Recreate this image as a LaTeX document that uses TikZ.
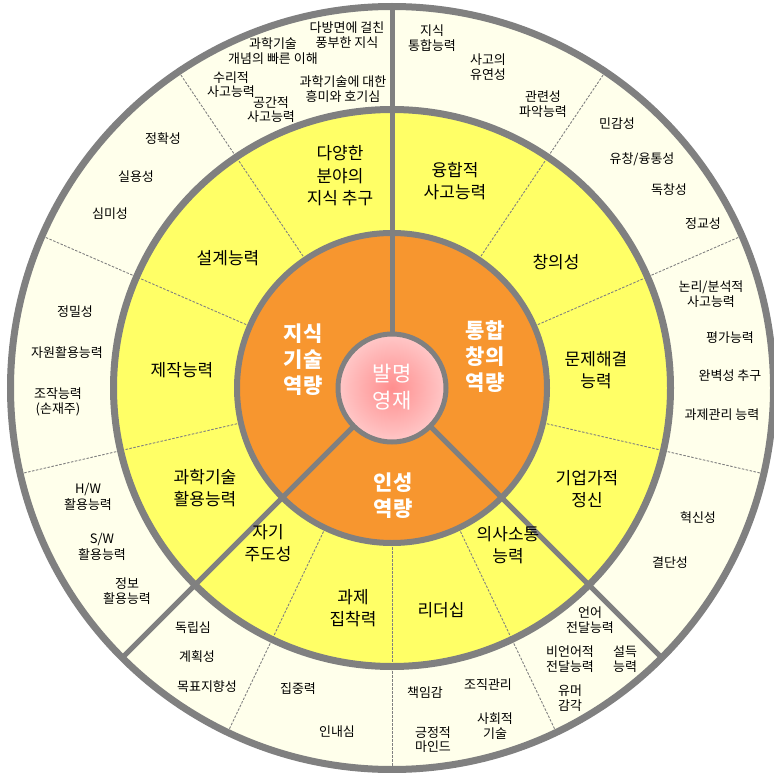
\documentclass[tikz,border=0pt]{standalone}
\usepackage{fontspec}
\setmainfont{Noto Sans CJK KR}
\definecolor{cream}{HTML}{FFFFEB}
\definecolor{yel}{HTML}{FFFF66}
\definecolor{org}{HTML}{F7962F}
\definecolor{rimgray}{HTML}{808080}
\definecolor{pinkin}{HTML}{FF8E8E}
\definecolor{pinkout}{HTML}{FFC8C8}
\tikzset{
  dline/.style={rimgray, line width=0.9pt, dash pattern=on 2.5pt off 1.5pt},
  thick line/.style={rimgray, line width=5pt},
  otext/.style={font=\fontsize{13}{15.5}\selectfont, align=center, inner sep=0pt, text=black},
  otight/.style={otext, font=\fontsize{13}{14}\selectfont},
  ytext/.style={font=\fontsize{17}{22.5}\selectfont, align=center, inner sep=0pt, text=black},
  ctext/.style={font=\fontsize{21}{26}\selectfont\bfseries, align=center, inner sep=0pt, text=white},
  mtext/.style={font=\fontsize{21}{27}\selectfont, align=center, inner sep=0pt, text=white}
}
\begin{document}
\begin{tikzpicture}[x=1pt,y=-1pt]
\useasboundingbox (0,0) rectangle (774,773);
\begin{scope}[shift={(392,388)}]
  \fill[cream] (0,0) circle (381.5);
  \fill[yel] (0,0) circle (278.5);
  \fill[org] (0,0) circle (155);
  \foreach \a in {-56,-23.5,13,-124,-156.5,167,115.5,90,64.5}
    \draw[dline] (\a:155) -- (\a:381);
  \foreach \a in {-90,135,45}
    \draw[thick line] (\a:50) -- (\a:381);
  \draw[rimgray, line width=7pt] (0,0) circle (381.5);
  \draw[rimgray, line width=7pt] (0,0) circle (278.5);
  \draw[rimgray, line width=6pt] (0,0) circle (155);
  \shade[inner color=pinkin, outer color=pinkout] (0,0) circle (54);
  \draw[rimgray, line width=5pt] (0,0) circle (54);
\end{scope}
% centre
\node[mtext] (m) at (392,387) {발명\\영재};
% orange
\node[ctext] (c1) at (303,360) {지식\\기술\\역량};
\node[ctext] (c2) at (485,357) {통합\\창의\\역량};
\node[ctext] (c3) at (393,496) {인성\\역량};
% yellow
\node[ytext] (y1) at (340,176) {다양한\\분야의\\지식 추구};
\node[ytext] (y2) at (455,181) {융합적\\사고능력};
\node[ytext] (y3) at (228,258) {설계능력};
\node[ytext] (y4) at (556,262) {창의성};
\node[ytext] (y5) at (182,370) {제작능력};
\node[ytext] (y6) at (596,370) {문제해결\\능력};
\node[ytext] (y7) at (205,488) {과학기술\\활용능력};
\node[ytext] (y8) at (587,489) {기업가적\\정신};
\node[ytext] (y9) at (268,543) {자기\\주도성};
\node[ytext] (y10) at (353,608) {과제\\집착력};
\node[ytext] (y11) at (441,610) {리더십};
\node[ytext] (y12) at (508,545) {의사소통\\능력};
% outer
\node[otext] (o1) at (347,35) {다방면에 걸친\\풍부한 지식};
\node[otext] (o2) at (273,51) {과학기술\\개념의 빠른 이해};
\node[otight] (o3) at (231,85) {수리적\\사고능력};
\node[otight] (o4) at (271,110) {공간적\\사고능력};
\node[otext] (o5) at (343,89) {과학기술에 대한\\흥미와 호기심};
\node[otext] (o6) at (432,38) {지식\\통합능력};
\node[otext] (o7) at (488,67) {사고의\\유연성};
\node[otext] (o8) at (543,104) {관련성\\파악능력};
\node[otext] (o9) at (617,124) {민감성};
\node[otext] (o10) at (642,159) {유창/융통성};
\node[otext] (o11) at (669,190) {독창성};
\node[otext] (o12) at (703,224) {정교성};
\node[otext] (o13) at (711,294) {논리/분석적\\사고능력};
\node[otext] (o14) at (730,338) {평가능력};
\node[otext] (o15) at (730,376) {완벽성 추구};
\node[otext] (o16) at (722,415) {과제관리 능력};
\node[otext] (o17) at (698,518) {혁신성};
\node[otext] (o18) at (670,563) {결단성};
\node[otext] (o19) at (590,620) {언어\\전달능력};
\node[otext] (o20) at (570,659) {비언어적\\전달능력};
\node[otext] (o21) at (625,659) {설득\\능력};
\node[otext] (o22) at (570,698) {유머\\감각};
\node[otext] (o23) at (425,693) {책임감};
\node[otext] (o24) at (488,685) {조직관리};
\node[otight] (o25) at (433,740) {긍정적\\마인드};
\node[otext] (o26) at (495,726) {사회적\\기술};
\node[otext] (o27) at (298,689) {집중력};
\node[otext] (o28) at (337,732) {인내심};
\node[otext] (o29) at (193,628) {독립심};
\node[otext] (o30) at (197,657) {계획성};
\node[otext] (o31) at (207,687) {목표지향성};
\node[otext] (o32) at (88,497) {H/W\\활용능력};
\node[otext] (o33) at (102,547) {S/W\\활용능력};
\node[otext] (o34) at (127,591) {정보\\활용능력};
\node[otext] (o35) at (75,312) {정밀성};
\node[otext] (o36) at (67,353) {자원활용능력};
\node[otext] (o37) at (58,402) {조작능력\\(손재주)};
\node[otext] (o38) at (163,139) {정확성};
\node[otext] (o39) at (136,177) {실용성};
\node[otext] (o40) at (110,214) {심미성};
\end{tikzpicture}
\end{document}
